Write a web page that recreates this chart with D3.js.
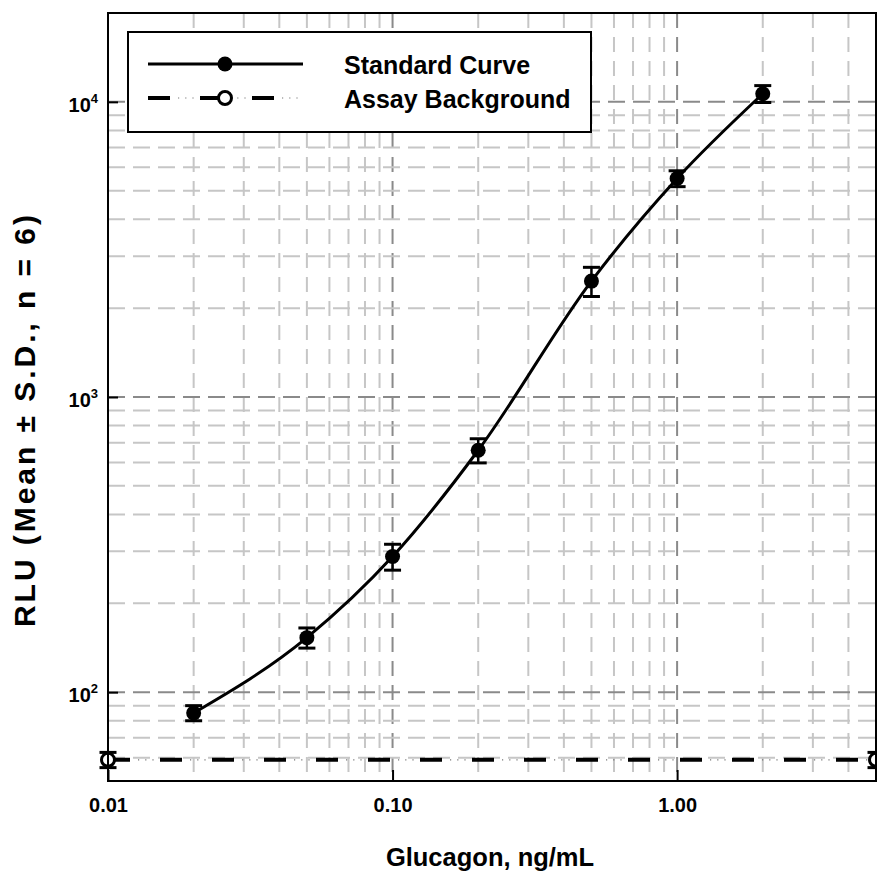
<!DOCTYPE html>
<html>
<head>
<meta charset="utf-8">
<script src="https://cdn.jsdelivr.net/npm/d3@7"></script>
<style>
  html, body { margin: 0; padding: 0; background: #fff; }
  svg { display: block; font-family: "Liberation Sans", Arial, Helvetica, sans-serif; font-weight: bold; }
</style>
</head>
<body>
<svg id="chart" width="877" height="875"></svg>
<script>
// ---- data ----
const stdConc = [0.02, 0.05, 0.1, 0.2, 0.5, 1, 2];
const stdRlu  = [85, 153, 288, 660, 2470, 5500, 10650];
const stdSd   = [5, 12, 29, 62, 280, 340, 700];

const bgConc = [0.01, 5];
const bgRlu  = [59, 59];
const bgSd   = [3.5, 3.5];

const xTickValues = [0.01, 0.1, 1];
const xTickLabels = ["0.01", "0.10", "1.00"];
const yTickValues = [100, 1000, 10000];
const yTickExps   = ["2", "3", "4"];

const seriesNames = ["Standard Curve", "Assay Background"];

// ---- layout ----
const svg = d3.select("#chart");
const L = 108, R = 876, T = 13, B = 781;

const x = d3.scaleLog().domain([0.01, 5]).range([L, R]);
const y = d3.scaleLog().domain([50, 20000]).range([B, T]);

// ---- grid ----
const xGrid = [];
[0.01, 0.1, 1].forEach(d => { for (let m = 1; m <= 9; m++) { const v = +(d * m).toPrecision(3); if (v <= 5) xGrid.push(v); } });
const yGrid = [];
[10, 100, 1000, 10000].forEach(d => { for (let m = 1; m <= 9; m++) { const v = d * m; if (v >= 50 && v <= 20000) yGrid.push(v); } });
const isMajor = v => Math.abs(Math.log10(v) - Math.round(Math.log10(v))) < 1e-9;

const grid = svg.append("g");
grid.selectAll(".vg").data(xGrid.filter(v => v > 0.01 && v < 5)).enter().append("line")
  .attr("x1", d => x(d)).attr("x2", d => x(d)).attr("y1", T).attr("y2", B)
  .attr("stroke", d => isMajor(d) ? "#8a8a8a" : "#c6c6c6")
  .attr("stroke-width", 2).attr("stroke-dasharray", "15,9");
grid.selectAll(".hg").data(yGrid.filter(v => v > 50 && v < 20000)).enter().append("line")
  .attr("y1", d => y(d)).attr("y2", d => y(d)).attr("x1", L).attr("x2", R)
  .attr("stroke", d => isMajor(d) ? "#8a8a8a" : "#c6c6c6")
  .attr("stroke-width", 2).attr("stroke-dasharray", "17,8");

// ---- assay background ----
const bgData = bgConc.map((c, i) => ({c, v: bgRlu[i], s: bgSd[i]}));
const lineBg = d3.line().x(d => x(d.c)).y(d => y(d.v));
svg.append("path").datum(bgData).attr("d", lineBg)
  .attr("fill", "none").attr("stroke", "#000").attr("stroke-width", 4)
  .attr("stroke-dasharray", "22,30");
svg.append("path").datum(bgData).attr("d", lineBg)
  .attr("fill", "none").attr("stroke", "#777").attr("stroke-width", 1.2)
  .attr("stroke-dasharray", "0,30,1.2,6,1.2,6,1.2,6.4");

// ---- standard curve ----
const stdData = stdConc.map((c, i) => ({c, v: stdRlu[i], s: stdSd[i]}));
svg.append("path").datum(stdData)
  .attr("d", d3.line().x(d => x(d.c)).y(d => y(d.v)).curve(d3.curveMonotoneX))
  .attr("fill", "none").attr("stroke", "#000").attr("stroke-width", 3);

// ---- error bars ----
function errorBars(data) {
  const g = svg.append("g").attr("stroke", "#000");
  data.forEach(d => {
    const xc = x(d.c), y0 = y(d.v - d.s), y1 = y(d.v + d.s);
    g.append("line").attr("x1", xc).attr("x2", xc).attr("y1", y0).attr("y2", y1).attr("stroke-width", 2.5);
    g.append("line").attr("x1", xc - 8.5).attr("x2", xc + 8.5).attr("y1", y0).attr("y2", y0).attr("stroke-width", 3);
    g.append("line").attr("x1", xc - 8.5).attr("x2", xc + 8.5).attr("y1", y1).attr("y2", y1).attr("stroke-width", 3);
  });
}
errorBars(stdData);
errorBars(bgData);

svg.selectAll(".stdpt").data(stdData).enter().append("circle")
  .attr("cx", d => x(d.c)).attr("cy", d => y(d.v)).attr("r", 7.5).attr("fill", "#000");
svg.selectAll(".bgpt").data(bgData).enter().append("circle")
  .attr("cx", d => x(d.c)).attr("cy", d => y(d.v)).attr("r", 6.5)
  .attr("fill", "#fff").attr("stroke", "#000").attr("stroke-width", 3);

// ---- frame ----
svg.append("rect").attr("x", L).attr("y", T).attr("width", R - L).attr("height", B - T)
  .attr("fill", "none").attr("stroke", "#000").attr("stroke-width", 2);

// ---- axes ----
const xAxis = d3.axisBottom(x).tickValues(xTickValues)
  .tickFormat((d, i) => xTickLabels[i]).tickSizeInner(-11).tickSizeOuter(0).tickPadding(17);
const gx = svg.append("g").attr("transform", `translate(0,${B})`).call(xAxis);
gx.select(".domain").remove();
gx.selectAll(".tick line").attr("stroke", "#000").attr("stroke-width", 2);
gx.selectAll(".tick text").attr("font-size", 20).attr("font-family", "Liberation Sans, Arial, sans-serif")
  .attr("font-weight", "bold").attr("fill", "#000").attr("dy", "0.71em");

const yAxis = d3.axisLeft(y).tickValues(yTickValues).tickFormat(() => "").tickSizeInner(-10).tickSizeOuter(0);
const gy = svg.append("g").attr("transform", `translate(${L},0)`).call(yAxis);
gy.select(".domain").remove();
gy.selectAll(".tick line").attr("stroke", "#000").attr("stroke-width", 2);
gy.selectAll(".tick text").remove();
yTickValues.forEach((v, i) => {
  const t = svg.append("text").attr("x", 98).attr("y", y(v) + 10).attr("text-anchor", "end")
    .attr("font-size", 20).attr("fill", "#000");
  t.append("tspan").text("10");
  t.append("tspan").attr("font-size", 13).attr("dy", -9).text(yTickExps[i]);
});

// ---- axis titles ----
svg.append("text").attr("x", 490).attr("y", 866).attr("text-anchor", "middle")
  .attr("font-size", 25.5).attr("fill", "#000").text("Glucagon, ng/mL");
svg.append("text").attr("transform", "translate(35,421) rotate(-90)").attr("text-anchor", "middle")
  .attr("font-size", 30).attr("fill", "#000")
  .attr("textLength", 412).attr("lengthAdjust", "spacing")
  .text("RLU (Mean ± S.D., n = 6)");

// ---- legend ----
const lg = svg.append("g");
lg.append("rect").attr("x", 128).attr("y", 32).attr("width", 463).attr("height", 100)
  .attr("fill", "#fff").attr("stroke", "#000").attr("stroke-width", 2);
lg.append("line").attr("x1", 148).attr("x2", 303).attr("y1", 64).attr("y2", 64)
  .attr("stroke", "#000").attr("stroke-width", 3);
lg.append("circle").attr("cx", 225).attr("cy", 64).attr("r", 7.5).attr("fill", "#000");
lg.append("line").attr("x1", 148).attr("x2", 303).attr("y1", 98).attr("y2", 98)
  .attr("stroke", "#000").attr("stroke-width", 4).attr("stroke-dasharray", "22,30");
lg.append("line").attr("x1", 148).attr("x2", 303).attr("y1", 98).attr("y2", 98)
  .attr("stroke", "#777").attr("stroke-width", 1.2).attr("stroke-dasharray", "0,30,1.2,6,1.2,6,1.2,6.4");
lg.append("circle").attr("cx", 225).attr("cy", 98).attr("r", 6.5)
  .attr("fill", "#fff").attr("stroke", "#000").attr("stroke-width", 3);
lg.selectAll(".lt").data(seriesNames).enter().append("text")
  .attr("x", 344).attr("y", (d, i) => 74 + i * 34)
  .attr("font-size", 25).attr("fill", "#000").text(d => d);
</script>
</body>
</html>
